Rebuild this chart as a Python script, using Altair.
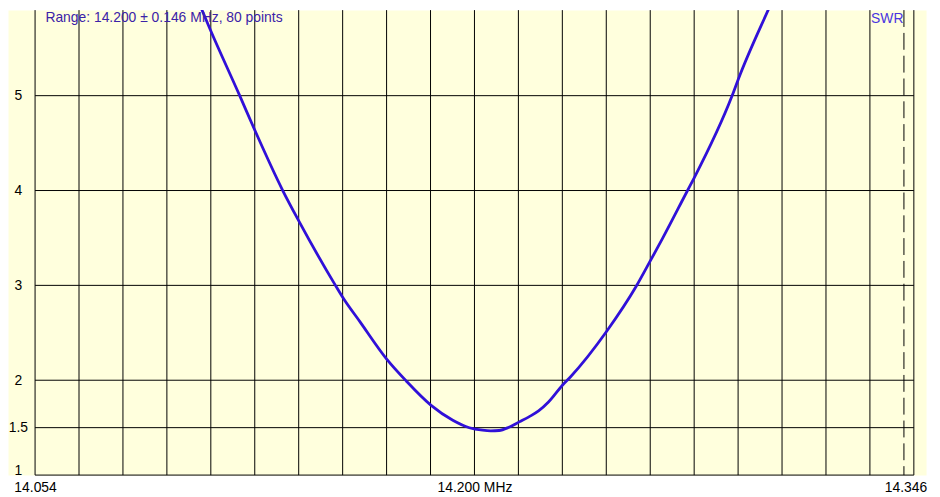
import altair as alt
import pandas as pd

FONT = "Liberation Sans"
BG = "#FFFFDD"
LINE_COLOR = "#3010D8"
TEXT_COLOR = "#3B22A8"
SWR_COLOR = "#4A35E0"

# --- data -----------------------------------------------------------------
FREQ = [14.054, 14.080, 14.100, 14.1083, 14.1123, 14.1220, 14.1271, 14.1363,
        14.1418, 14.1538, 14.1561, 14.1621, 14.1709, 14.1774, 14.1856, 14.1928,
        14.1983, 14.2027, 14.2054, 14.2082, 14.2115, 14.2149, 14.2181, 14.2213,
        14.2246, 14.2293, 14.2318, 14.2440, 14.2538, 14.2586, 14.2625, 14.2708,
        14.2731, 14.2856, 14.2878, 14.2988, 14.310, 14.330, 14.346]
SWR = [10.5, 8.3, 6.65, 5.99, 5.69, 5.00, 4.63, 4.00,
       3.67, 3.00, 2.88, 2.61, 2.22, 1.99, 1.735, 1.578,
       1.499, 1.473, 1.467, 1.470, 1.505, 1.561, 1.614, 1.676,
       1.770, 1.950, 2.032, 2.519, 2.993, 3.268, 3.495, 4.000,
       4.139, 4.998, 5.184, 5.99, 6.80, 8.40, 9.60]

GRID_FREQ = [14.054, 14.0686, 14.0832, 14.0978, 14.1124, 14.127, 14.1416,
             14.1562, 14.1708, 14.1854, 14.200, 14.2146, 14.2292, 14.2438,
             14.2584, 14.273, 14.2876, 14.3022, 14.3168, 14.3314, 14.346]
SWR_LEVELS = [1, 1.5, 2, 3, 4, 5]
X_TICKS = [14.054, 14.200, 14.346]
MARKER_FREQ = [14.3427]
F_START, F_END = 14.054, 14.346
TITLE = "Range: 14.200 \u00b1 0.146 MHz, 80 points"

# --- scales -----------------------------------------------------------------
X_MIN, X_MAX = 14.045007, 14.350052
Y_MIN, Y_MAX = 1.0, 5.902
XS = alt.Scale(domain=[X_MIN, X_MAX], nice=False, zero=False)
YS = alt.Scale(domain=[Y_MIN, Y_MAX], nice=False, zero=False)

curve = pd.DataFrame({"freq": FREQ, "swr": SWR})

x_axis = alt.Axis(
    values=X_TICKS,
    labelExpr="abs(datum.value - 14.2) < 0.001 ? '14.200 MHz' : format(datum.value, '.3f')",
    title=None, domain=False, ticks=False, grid=False,
    labelPadding=5.5, labelFontSize=14, labelFont=FONT, labelColor="black",
    labelFlush=13, labelFlushOffset=13,
)
y_axis = alt.Axis(
    values=SWR_LEVELS, labelExpr="format(datum.value, '~g')",
    title="SWR", titleAngle=0, titleAlign="right", titleBaseline="alphabetic",
    titleX=875.4, titleY=12.8, titleColor=SWR_COLOR, titleFontSize=14,
    titleFontWeight="normal", titleFont=FONT,
    offset=-27.3, domain=False, ticks=False, grid=False,
    labelAlign="center", labelPadding=17.3, labelFontSize=14, labelFont=FONT,
    labelColor="black", labelFlush=True, labelFlushOffset=2.5,
)

vgrid = alt.Chart(pd.DataFrame({"f": GRID_FREQ})).mark_rule(
    color="black", strokeWidth=1).encode(
    x=alt.X("f:Q", scale=XS, axis=x_axis))

hgrid = alt.Chart(pd.DataFrame({"lvl": SWR_LEVELS})).mark_rule(
    color="black", strokeWidth=1).encode(
    y=alt.Y("lvl:Q", scale=YS, axis=y_axis),
    x=alt.X(datum=F_START, scale=XS, axis=x_axis),
    x2=alt.X2(datum=F_END))

marker = alt.Chart(pd.DataFrame({"f": MARKER_FREQ})).mark_rule(
    color="black", strokeWidth=1, strokeDash=[17, 6]).encode(
    x=alt.X("f:Q", scale=XS, axis=x_axis))

line = alt.Chart(curve).mark_line(
    color=LINE_COLOR, strokeWidth=2.8, clip=True, interpolate="monotone").encode(
    x=alt.X("freq:Q", scale=XS, axis=x_axis),
    y=alt.Y("swr:Q", scale=YS, axis=y_axis))

chart = alt.layer(vgrid, hgrid, marker, line).properties(
    width=926, height=469,
    title=alt.TitleParams(
        text=TITLE, anchor="start", frame="group", orient="top",
        offset=-26.8, baseline="alphabetic", dx=37.7, fontSize=14,
        fontWeight="normal", font=FONT, color=TEXT_COLOR),
    autosize=alt.AutoSizeParams(type="none"),
    padding={"left": 0, "top": 0, "right": 6, "bottom": 22},
).configure_view(fill=BG, stroke="transparent")

chart.save("out.html", embed_options={"renderer": "svg", "actions": False})
